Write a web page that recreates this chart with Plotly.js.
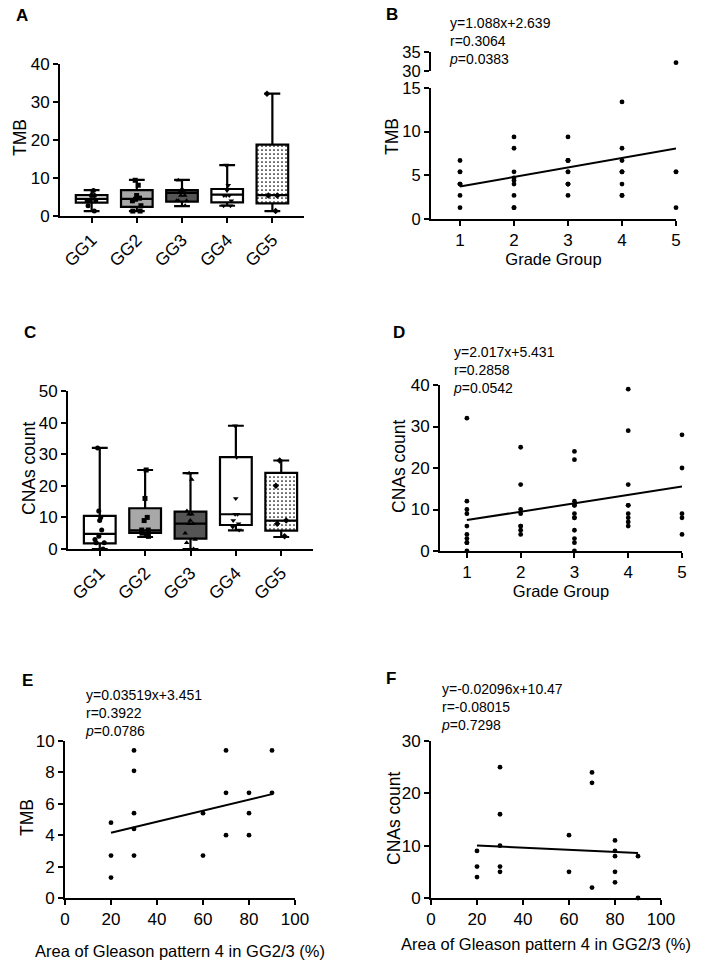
<!DOCTYPE html>
<html>
<head>
<meta charset="utf-8">
<script src="https://cdn.plot.ly/plotly-3.0.1.min.js"></script>
<style>html,body{margin:0;padding:0;background:#fff;}#chart{width:708px;height:977px;}</style>
</head>
<body>
<div id="chart"></div>
<script>
// ---------------- DATA ----------------
const groups = ['GG1', 'GG2', 'GG3', 'GG4', 'GG5'];
const gradeNumbers = [1, 2, 3, 4, 5];

// Panel A: TMB box statistics per grade group
const tmbLower  = [1.3, 1.3, 2.6, 2.7, 1.3];
const tmbQ1     = [3.5, 2.4, 3.8, 3.6, 3.3];
const tmbMedian = [4.5, 4.5, 6.1, 5.6, 5.5];
const tmbQ3     = [5.5, 6.8, 6.8, 7.1, 18.8];
const tmbUpper  = [6.8, 9.5, 9.5, 13.4, 32.2];

// TMB individual values per grade group (panels A and B)
const tmbGG1 = [6.7, 5.4, 5.4, 4.0, 4.0, 4.0, 2.7, 1.3];
const tmbGG2 = [9.4, 8.1, 5.4, 4.7, 4.4, 4.0, 2.7, 1.3, 1.3];
const tmbGG3 = [9.4, 6.7, 6.7, 6.7, 5.4, 5.4, 4.0, 4.0, 4.0, 2.7];
const tmbGG4 = [13.4, 8.1, 6.7, 5.4, 5.4, 5.4, 4.0, 2.7, 2.7];
const tmbGG5 = [32.2, 5.4, 5.4, 1.3];

// Panel C: CNAs count box statistics per grade group
const cnaLower  = [0, 3.8, 0, 5.9, 3.8];
const cnaQ1     = [1.8, 5.1, 3.3, 7.6, 5.8];
const cnaMedian = [4.8, 5.9, 8.0, 11.0, 9.0];
const cnaQ3     = [10.5, 12.9, 11.8, 29.1, 24.1];
const cnaUpper  = [32, 25, 24, 39, 28];

// CNAs count individual values per grade group (panels C and D)
const cnaGG1 = [32, 12, 10, 9, 6, 4, 3, 2, 2, 0];
const cnaGG2 = [25, 16, 10, 9, 6, 6, 5, 4];
const cnaGG3 = [24, 22, 12, 11, 11, 9, 8, 8, 5, 3, 2, 0];
const cnaGG4 = [39, 29, 16, 11, 11, 9, 8, 7, 6];
const cnaGG5 = [28, 20, 9, 8, 4];

// Panel E: area of Gleason pattern 4 vs TMB (GG2/3)
const areaE = [20, 20, 20, 30, 30, 30, 30, 30, 60, 60, 70, 70, 70, 80, 80, 80, 90, 90];
const tmbE  = [4.8, 2.7, 1.3, 9.4, 8.1, 5.4, 4.4, 2.7, 5.4, 2.7, 9.4, 6.7, 4.0, 6.7, 5.4, 4.0, 9.4, 6.7];

// Panel F: area of Gleason pattern 4 vs CNAs count (GG2/3)
const areaF = [20, 20, 20, 30, 30, 30, 30, 30, 60, 60, 70, 70, 70, 80, 80, 80, 80, 80, 90, 90];
const cnaF  = [9, 6, 4, 25, 16, 10, 6, 5, 12, 5, 24, 22, 2, 11, 9, 8, 5, 3, 8, 0];

// Linear regression results printed on the panels
const fitSlopes     = {B: 1.088, D: 2.017, E: 0.03519, F: -0.02096};
const fitIntercepts = {B: 2.639, D: 5.431, E: 3.451, F: 10.47};
const fitLabels = {
  B: ['y=1.088x+2.639', 'r=0.3064', '<i>p</i>=0.0383'],
  D: ['y=2.017x+5.431', 'r=0.2858', '<i>p</i>=0.0542'],
  E: ['y=0.03519x+3.451', 'r=0.3922', '<i>p</i>=0.0786'],
  F: ['y=-0.02096x+10.47', 'r=-0.08015', '<i>p</i>=0.7298']
};

// Axis titles
const yTitles = {A: 'TMB', B: 'TMB', C: 'CNAs count', D: 'CNAs count', E: 'TMB', F: 'CNAs count'};
const xTitleGrade = 'Grade Group';
const xTitleArea = 'Area of Gleason pattern 4 in GG2/3 (%)';

// ---------------- STYLE ----------------
const FONT = 'Liberation Sans, Arial, Helvetica, sans-serif';
const W = 708, H = 977;
const px = v => v / W;
const py = v => 1 - v / H;
const boxFills = ['#ffffff', '#a8a8a8', '#555555', '#ffffff', 'rgba(0,0,0,0)'];
const symbols = ['circle', 'square', 'triangle-up', 'triangle-down', 'diamond'];

const tmbByGroup = [tmbGG1, tmbGG2, tmbGG3, tmbGG4, tmbGG5];
const cnaByGroup = [cnaGG1, cnaGG2, cnaGG3, cnaGG4, cnaGG5];

const traces = [];

function addBoxPanel(xa, ya, lower, q1, med, q3, upper, raw) {
  // dotted fill for GG5 (bar underneath a transparent box)
  traces.push({
    type: 'bar', xaxis: xa, yaxis: ya,
    x: [groups[4]], y: [q3[4] - q1[4]], base: [q1[4]], width: 0.7,
    marker: {color: '#ffffff', line: {width: 0},
             pattern: {shape: '.', fgcolor: '#000000', bgcolor: '#ffffff', size: 4, solidity: 0.15}},
    showlegend: false, hoverinfo: 'skip'
  });
  groups.forEach((g, i) => {
    traces.push({
      type: 'box', orientation: 'v', xaxis: xa, yaxis: ya,
      x: [g], q1: [q1[i]], median: [med[i]], q3: [q3[i]],
      lowerfence: [lower[i]], upperfence: [upper[i]],
      width: 0.7, whiskerwidth: 0.5, boxpoints: false,
      fillcolor: boxFills[i], line: {color: '#000000', width: 2.2},
      showlegend: false, name: g
    });
  });
  groups.forEach((g, i) => {
    traces.push({
      type: 'box', orientation: 'v', xaxis: xa, yaxis: ya,
      x: raw[i].map(() => g), y: raw[i],
      width: 0.7, boxpoints: 'all', jitter: 0.4, pointpos: 0,
      fillcolor: 'rgba(0,0,0,0)', line: {color: 'rgba(0,0,0,0)', width: 0},
      marker: {symbol: symbols[i], size: 5, color: '#000000'},
      showlegend: false, name: g, hoveron: 'points'
    });
  });
}

addBoxPanel('x', 'y', tmbLower, tmbQ1, tmbMedian, tmbQ3, tmbUpper, tmbByGroup);
addBoxPanel('x3', 'y4', cnaLower, cnaQ1, cnaMedian, cnaQ3, cnaUpper, cnaByGroup);

function flatX(byGroup) { const out = []; byGroup.forEach((vals, i) => vals.forEach(() => out.push(gradeNumbers[i]))); return out; }
function flatY(byGroup) { const out = []; byGroup.forEach(vals => vals.forEach(v => out.push(v))); return out; }

const dotMarker = {size: 4.8, color: '#000000'};

// Panel B: broken axis (0-15 main, 30-35 upper)
const bX = flatX(tmbByGroup), bY = flatY(tmbByGroup);
const lowIdx = bY.map((v, i) => i).filter(i => bY[i] <= 15);
const highIdx = bY.map((v, i) => i).filter(i => bY[i] > 15);
traces.push({type: 'scatter', mode: 'markers', xaxis: 'x2', yaxis: 'y2',
  x: lowIdx.map(i => bX[i]), y: lowIdx.map(i => bY[i]), marker: dotMarker, cliponaxis: false, showlegend: false});
traces.push({type: 'scatter', mode: 'markers', xaxis: 'x2', yaxis: 'y3',
  x: highIdx.map(i => bX[i]), y: highIdx.map(i => bY[i]), marker: dotMarker, cliponaxis: false, showlegend: false});

function fitLine(key, xs, xa, ya) {
  const x0 = Math.min(...xs), x1 = Math.max(...xs);
  traces.push({type: 'scatter', mode: 'lines', xaxis: xa, yaxis: ya,
    x: [x0, x1], y: [fitSlopes[key] * x0 + fitIntercepts[key], fitSlopes[key] * x1 + fitIntercepts[key]],
    line: {color: '#000000', width: 2}, cliponaxis: false, showlegend: false, hoverinfo: 'skip'});
}
fitLine('B', bX, 'x2', 'y2');

// Panel D
const dX = flatX(cnaByGroup), dY = flatY(cnaByGroup);
traces.push({type: 'scatter', mode: 'markers', xaxis: 'x4', yaxis: 'y5',
  x: dX, y: dY, marker: dotMarker, cliponaxis: false, showlegend: false});
fitLine('D', dX, 'x4', 'y5');

// Panel E
traces.push({type: 'scatter', mode: 'markers', xaxis: 'x5', yaxis: 'y6',
  x: areaE, y: tmbE, marker: dotMarker, cliponaxis: false, showlegend: false});
fitLine('E', areaE, 'x5', 'y6');

// Panel F
traces.push({type: 'scatter', mode: 'markers', xaxis: 'x6', yaxis: 'y7',
  x: areaF, y: cnaF, marker: dotMarker, cliponaxis: false, showlegend: false});
fitLine('F', areaF, 'x6', 'y7');

// ---------------- LAYOUT ----------------
function axisBase(extra) {
  return Object.assign({
    showline: true, linecolor: '#000000', linewidth: 2,
    ticks: 'outside', ticklen: 5, tickwidth: 2, tickcolor: '#000000',
    showgrid: false, zeroline: false, fixedrange: true,
    tickfont: {family: FONT, size: 17, color: '#000000'}
  }, extra);
}
const titleFont = {family: FONT, size: 17.5, color: '#000000'};
const xTitleFont = {family: FONT, size: 16.5, color: '#000000'};

const layout = {
  width: W, height: H,
  margin: {l: 0, r: 0, t: 0, b: 0},
  paper_bgcolor: '#ffffff', plot_bgcolor: 'rgba(0,0,0,0)',
  font: {family: FONT, color: '#000000'},
  showlegend: false, boxmode: 'overlay', barmode: 'overlay',
  // A
  xaxis: axisBase({domain: [px(60), px(304)], anchor: 'y', type: 'category', categoryorder: 'array', categoryarray: groups,
    range: [-0.7, 4.7], tickangle: -45, tickfont: {family: FONT, size: 17.5, color: '#000000'}}),
  yaxis: axisBase({domain: [py(216), py(64)], anchor: 'x', range: [0, 40], dtick: 10}),
  // B
  xaxis2: axisBase({domain: [px(431), px(676)], anchor: 'y2', range: [0.463, 5], tickvals: gradeNumbers,
    title: {text: xTitleGrade, font: xTitleFont, standoff: 4}}),
  yaxis2: axisBase({domain: [py(219), py(88)], anchor: 'x2', range: [0, 15], dtick: 5,
    tickfont: {family: FONT, size: 16.5, color: '#000000'}}),
  yaxis3: axisBase({domain: [py(71), py(52)], anchor: 'x2', range: [30, 35], tickvals: [30, 35],
    tickfont: {family: FONT, size: 16.5, color: '#000000'}}),
  // C
  xaxis3: axisBase({domain: [px(68), px(313)], anchor: 'y4', type: 'category', categoryorder: 'array', categoryarray: groups,
    range: [-0.7, 4.7], tickangle: -45, tickfont: {family: FONT, size: 17.5, color: '#000000'}}),
  yaxis4: axisBase({domain: [py(549), py(391)], anchor: 'x3', range: [0, 50], dtick: 10}),
  // D
  xaxis4: axisBase({domain: [px(440), px(682)], anchor: 'y5', range: [0.5, 5], tickvals: gradeNumbers,
    title: {text: xTitleGrade, font: xTitleFont, standoff: 4}}),
  yaxis5: axisBase({domain: [py(551), py(385)], anchor: 'x4', range: [0, 40], dtick: 10}),
  // E
  xaxis5: axisBase({domain: [px(65), px(295)], anchor: 'y6', range: [0, 100], dtick: 20,
    title: {text: xTitleArea, font: xTitleFont, standoff: 17}}),
  yaxis6: axisBase({domain: [py(898), py(741)], anchor: 'x5', range: [0, 10], dtick: 2}),
  // F
  xaxis6: axisBase({domain: [px(431), px(661)], anchor: 'y7', range: [0, 100], dtick: 20,
    title: {text: xTitleArea, font: xTitleFont, standoff: 10}}),
  yaxis7: axisBase({domain: [py(898), py(741)], anchor: 'x6', range: [0, 30], dtick: 10}),
  annotations: []
};

// panel letters
const letters = [['A', 22, 15], ['B', 392, 14], ['C', 30, 333], ['D', 399, 333], ['E', 27, 680], ['F', 391, 678]];
letters.forEach(([t, x, y]) => layout.annotations.push({
  text: '<b>' + t + '</b>', xref: 'paper', yref: 'paper', x: px(x), y: py(y),
  xanchor: 'center', yanchor: 'middle', showarrow: false, font: {family: FONT, size: 17, color: '#000000'}
}));

// regression statistics
const statPos = {B: [447, 41], D: [451, 370], E: [83, 713], F: [439, 707]};
Object.keys(statPos).forEach(k => layout.annotations.push({
  text: fitLabels[k].join('<br>'), xref: 'paper', yref: 'paper', x: px(statPos[k][0]), y: py(statPos[k][1]),
  xanchor: 'left', yanchor: 'middle', align: 'left', showarrow: false,
  font: {family: FONT, size: 14, color: '#000000'}
}));

// y-axis titles (placed to match the reference, B centred on the broken axis)
const yTitlePos = {A: [20, 138], B: [392, 137], C: [29, 468], D: [399, 466], E: [27, 818], F: [394, 818]};
Object.keys(yTitlePos).forEach(k => layout.annotations.push({
  text: yTitles[k], xref: 'paper', yref: 'paper', x: px(yTitlePos[k][0]), y: py(yTitlePos[k][1]), textangle: -90,
  xanchor: 'center', yanchor: 'middle', showarrow: false, font: titleFont
}));

Plotly.newPlot('chart', traces, layout, {staticPlot: true, displayModeBar: false});
</script>
</body>
</html>
